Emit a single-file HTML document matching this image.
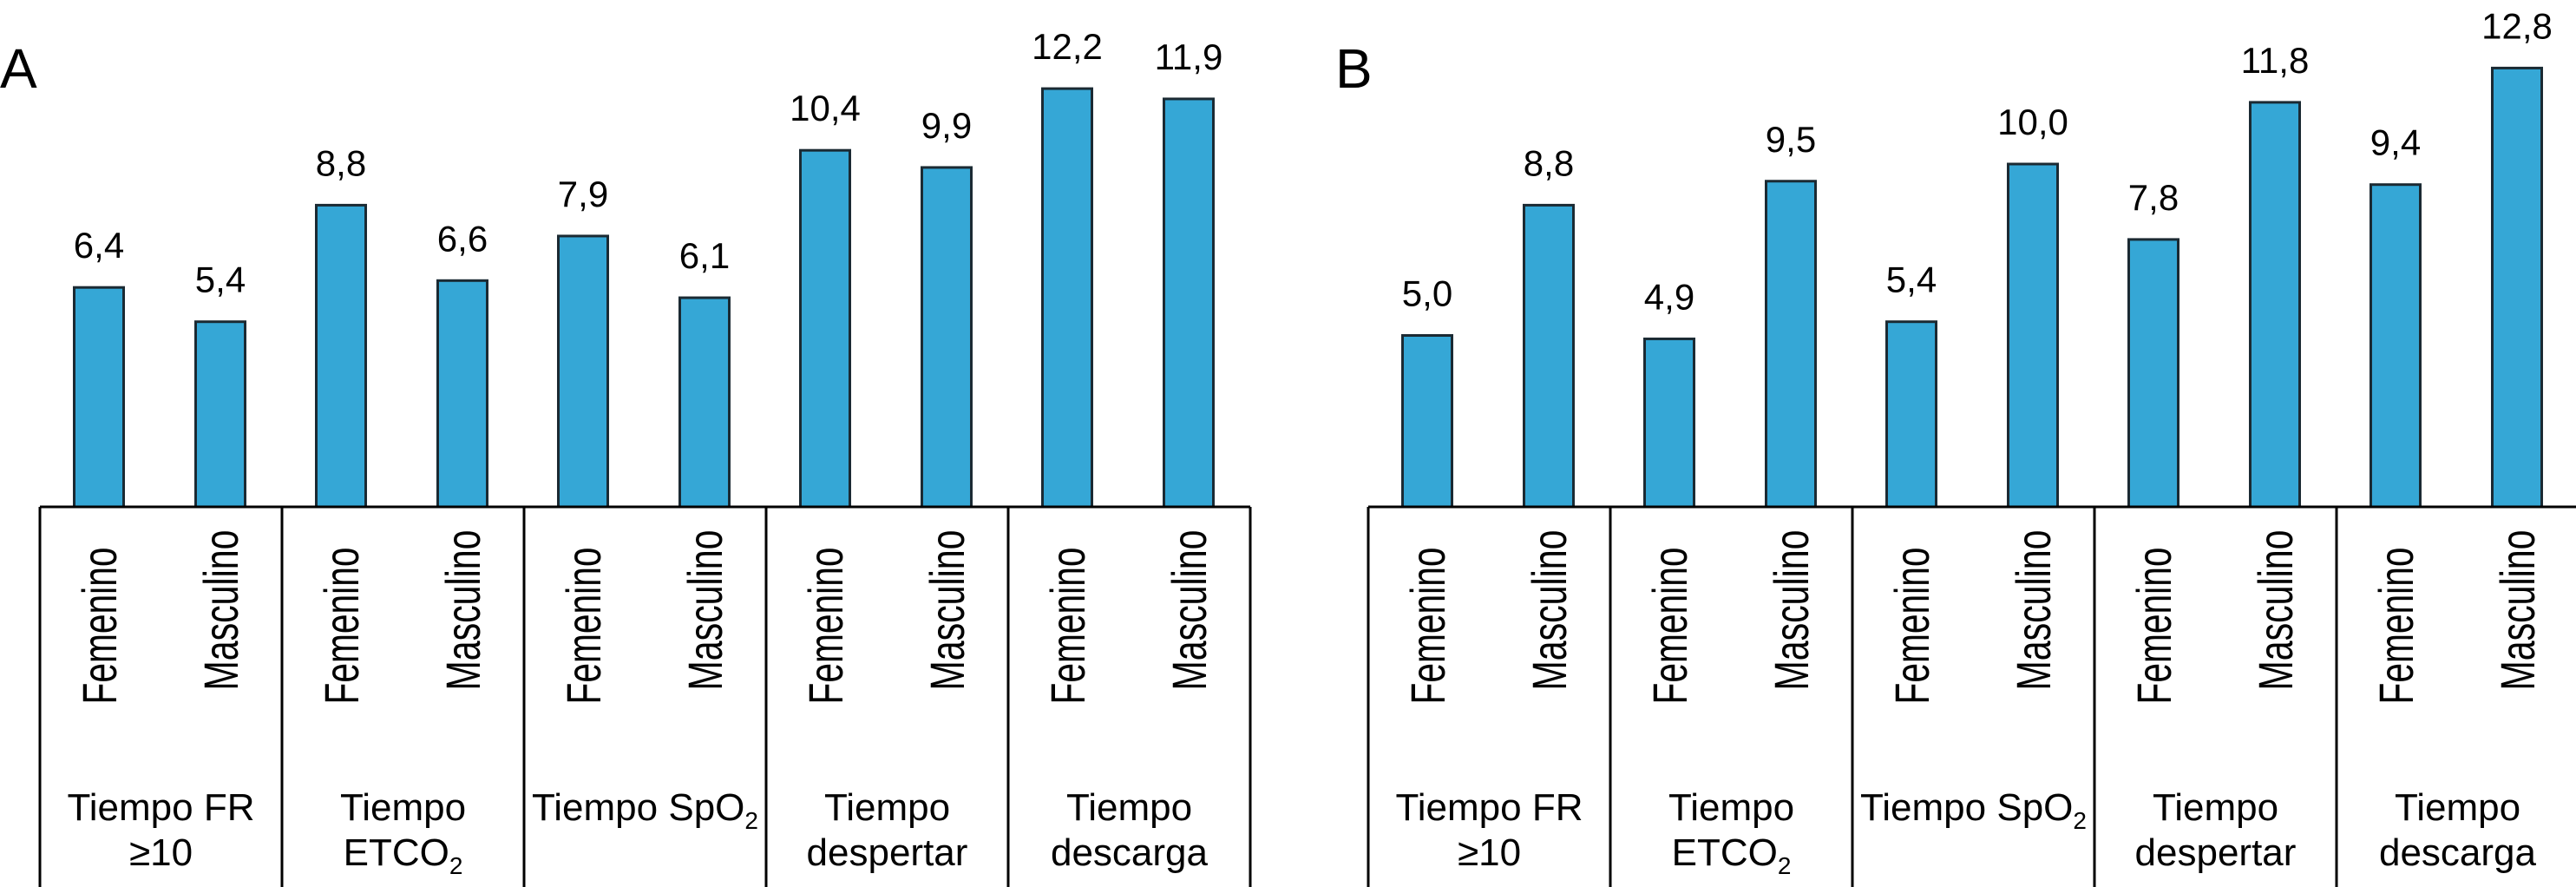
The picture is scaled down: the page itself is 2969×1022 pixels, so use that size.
<!DOCTYPE html>
<html><head><meta charset="utf-8"><style>
html,body{margin:0;padding:0;background:#fff;}
svg{display:block;font-family:"Liberation Sans",Arial,sans-serif;}
</style></head><body>
<svg id="chart" width="2969" height="1022" viewBox="0 0 2969 1022" xmlns="http://www.w3.org/2000/svg"></svg>
<script>
const groups = [["Tiempo FR","≥10"],["Tiempo","ETCO2"],["Tiempo SpO2"],["Tiempo","despertar"],["Tiempo","descarga"]];
const sexes = ["Femenino","Masculino"];
const valuesA = [6.4,5.4,8.8,6.6,7.9,6.1,10.4,9.9,12.2,11.9];
const valuesB = [5.0,8.8,4.9,9.5,5.4,10.0,7.8,11.8,9.4,12.8];
const labelsA = ["6,4","5,4","8,8","6,6","7,9","6,1","10,4","9,9","12,2","11,9"];
const labelsB = ["5,0","8,8","4,9","9,5","5,4","10,0","7,8","11,8","9,4","12,8"];

const NS="http://www.w3.org/2000/svg";
const svg=document.getElementById('chart');
function mk(tag,attrs,parent){const e=document.createElementNS(NS,tag);for(const k in attrs)e.setAttribute(k,attrs[k]);(parent||svg).appendChild(e);return e;}

function panel(letter,x0,lx,vals,labs){
  const g=mk('g',{});
  
  
  const base=584, pxu=39.5, gw=279, bw=57;
  const y=v=>base-v*pxu;
  const L=mk('text',{x:lx,y:101,'font-size':64,fill:'#000'},g);
  L.textContent=letter;
  
  
  vals.forEach((v,i)=>{
    const gi=Math.floor(i/2), s=i%2;
    const cx=x0+gi*gw+(s===0?68:208);
    const r=mk('rect',{x:cx-bw/2,y:y(v),width:bw,height:base-y(v),fill:'#35a7d6',stroke:'#1b2a33','stroke-width':3},g);
    
    
    const t=mk('text',{x:cx,y:y(v)-34,'font-size':42,'text-anchor':'middle',fill:'#000'},g);
    t.textContent=labs[i];
    
    
    const sl=mk('text',{transform:`translate(${cx+20},${s===0?721:703}) rotate(-90)`,'font-size':56,'text-anchor':'middle',fill:'#000',textLength:s===0?181:185,lengthAdjust:'spacingAndGlyphs'},g);
    sl.textContent=sexes[s];
    
    
  });
  mk('line',{x1:x0,y1:base,x2:x0+gw*5,y2:base,stroke:'#000','stroke-width':3},g);
  for(let k=0;k<=5;k++) mk('line',{x1:x0+k*gw,y1:base,x2:x0+k*gw,y2:1022,stroke:'#000','stroke-width':3},g);
  groups.forEach((lines,gi)=>{
    const cx=x0+gi*gw+gw/2;
    lines.forEach((ln,j)=>{
      const t=mk('text',{x:cx,y:945+j*52,'font-size':44,'text-anchor':'middle',fill:'#000'},g);
      
      
      if(ln.endsWith('O2')){
        t.appendChild(document.createTextNode(ln.slice(0,-1)));
        const sub=mk('tspan',{'font-size':28,dy:10},t);
        sub.textContent='2';
      } else t.textContent=ln;
    });
  });
}
panel('A',46,0,valuesA,labelsA);
panel('B',1577,1539,valuesB,labelsB);
</script>
</body></html>
